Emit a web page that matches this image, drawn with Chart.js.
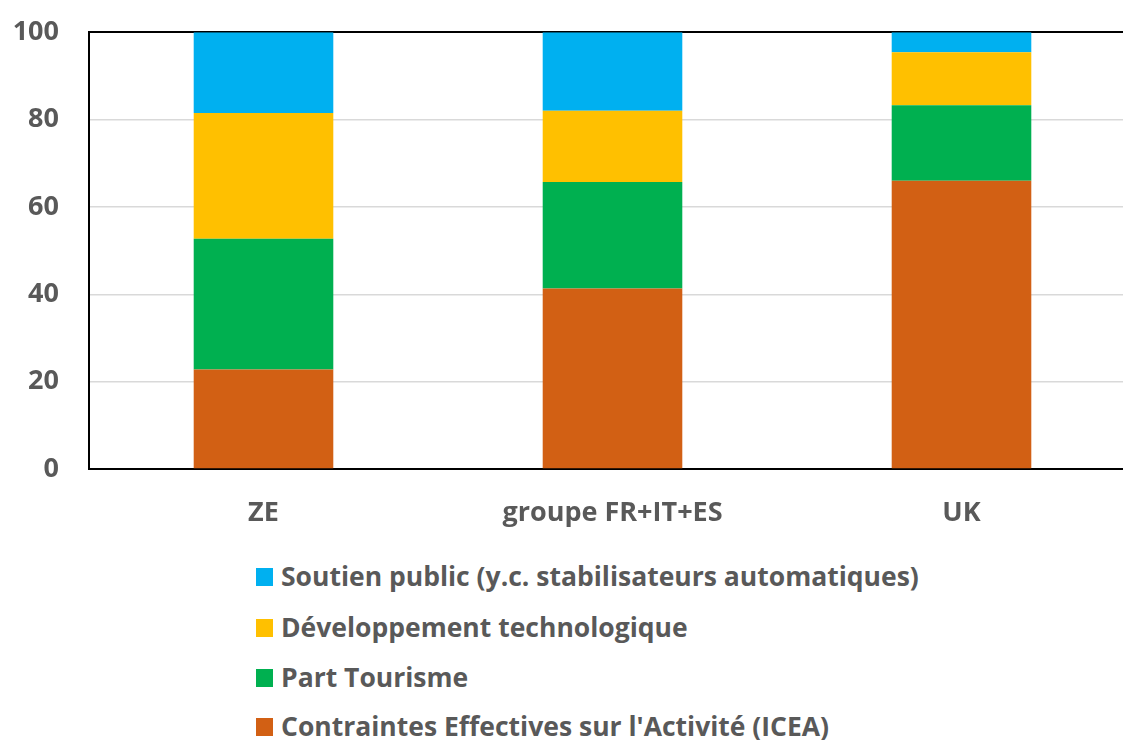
<!DOCTYPE html>
<html>
<head>
<meta charset="utf-8">
<script src="https://cdn.jsdelivr.net/npm/chart.js@4.4.1/dist/chart.umd.min.js"></script>
<style>
  html, body { margin: 0; padding: 0; background: #fff; overflow: hidden; }
  #wrap { position: absolute; left: 0; top: -14px; width: 1140px; height: 554px; }
  #legend { position: absolute; left: 256px; top: 0; font-family: "Open Sans", sans-serif; font-weight: 700; font-size: 26.5px; color: #595959; }
  .item { position: absolute; left: 0; white-space: nowrap; height: 30px; line-height: 30px; }
  .sw { position: absolute; left: 0; top: 6px; width: 17px; height: 18px; }
  .lbl { position: absolute; left: 25px; top: -1px; }
</style>
</head>
<body>
<div id="wrap"><canvas id="c" width="1140" height="554"></canvas></div>
<div id="legend"></div>
<script>
const categories = ["ZE", "groupe FR+IT+ES", "UK"];
const seriesNames = ["Contraintes Effectives sur l'Activité (ICEA)", "Part Tourisme", "Développement technologique", "Soutien public (y.c. stabilisateurs automatiques)"];
const icea = [22.8, 41.3, 66.0];
const tourisme = [29.9, 24.4, 17.3];
const techno = [28.8, 16.3, 12.1];
const soutien = [18.5, 18.0, 4.6];
const colors = ["#D26014", "#00B050", "#FFC000", "#00B0F0"];
const yTicks = [0, 20, 40, 60, 80, 100];

const values = [icea, tourisme, techno, soutien];
const datasets = values.map((v, i) => ({
  label: seriesNames[i],
  data: v,
  backgroundColor: colors[i],
  borderWidth: 0,
  barPercentage: 0.4,
  categoryPercentage: 1.0
}));

const textColor = "#595959";
new Chart(document.getElementById("c"), {
  type: "bar",
  data: { labels: categories, datasets },
  options: {
    responsive: false,
    animation: false,
    layout: { padding: { top: 17, right: 4, left: 0, bottom: 0 } },
    plugins: { legend: { display: false }, tooltip: { enabled: false } },
    scales: {
      x: {
        stacked: true,
        grid: { display: false, drawTicks: false },
        border: { color: "#000", width: 2 },
        ticks: { color: textColor, padding: 28, font: { family: "Open Sans", weight: "bold", size: 27 } },
        afterFit: s => { s.height = 71; }
      },
      y: {
        stacked: true,
        min: 0, max: 100,
        afterBuildTicks: s => { s.ticks = yTicks.map(v => ({ value: v })); },
        grid: {
          drawTicks: false,
          color: ctx => (ctx.tick && ctx.tick.value === 100) ? "#000" : "#d9d9d9",
          lineWidth: ctx => (ctx.tick && ctx.tick.value === 100) ? 2 : 1.5
        },
        border: { color: "#000", width: 2 },
        ticks: { color: textColor, padding: 30, font: { family: "Open Sans", weight: "bold", size: 27 } },
        afterFit: s => { s.width = 89; }
      }
    }
  }
});

const legend = document.getElementById("legend");
const rowsY = [577, 628, 678, 727];
[3, 2, 1, 0].forEach((idx, r) => {
  const it = document.createElement("div");
  it.className = "item";
  it.style.top = (rowsY[r] - 15) + "px";
  it.innerHTML = '<span class="sw" style="background:' + colors[idx] + '"></span><span class="lbl"></span>';
  it.querySelector(".lbl").textContent = seriesNames[idx];
  legend.appendChild(it);
});
</script>
</body>
</html>
